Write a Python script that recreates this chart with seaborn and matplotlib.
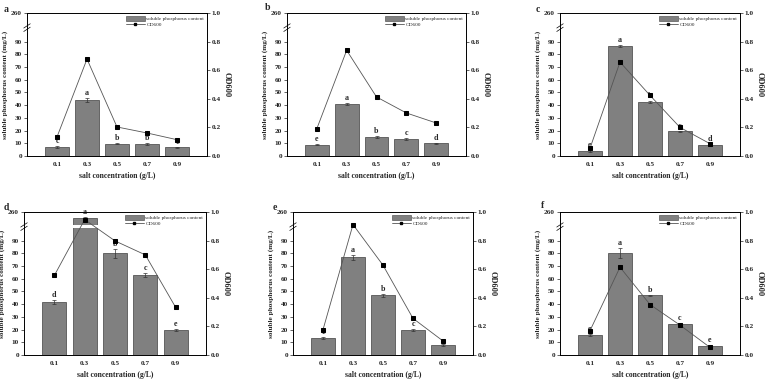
import numpy as np
import pandas as pd
import matplotlib
matplotlib.use("Agg")
import matplotlib.pyplot as plt
from matplotlib.patches import Patch
from matplotlib.lines import Line2D
import seaborn as sns

sns.set_style("white")
plt.rcParams['font.family'] = ['Liberation Serif', 'DejaVu Serif']
plt.rcParams['font.weight'] = 'bold'
plt.rcParams['axes.labelweight'] = 'bold'

salt = ["0.1", "0.3", "0.5", "0.7", "0.9"]
panel_names = ["a", "b", "c", "d", "e", "f"]

phos_a = [7.0, 44.1, 9.8, 9.3, 6.7]
phos_b = [8.8, 40.6, 15.0, 13.2, 10.1]
phos_c = [3.9, 86.8, 42.4, 19.4, 9.0]
phos_d = [42.0, 255.0, 80.1, 63.1, 19.6]
phos_e = [13.6, 77.0, 47.0, 19.6, 7.8]
phos_f = [15.7, 80.4, 47.0, 24.5, 7.3]

err_a = [0.8, 1.5, 0.5, 0.8, 0.5]
err_b = [0.5, 0.8, 0.8, 1.0, 0.5]
err_c = [0.5, 0.8, 0.5, 0.5, 0.5]
err_d = [1.5, 1.0, 3.5, 1.5, 0.8]
err_e = [0.8, 2.0, 1.2, 0.8, 0.5]
err_f = [0.8, 4.0, 0.5, 0.5, 0.5]

od_a = [0.133, 0.678, 0.203, 0.161, 0.114]
od_b = [0.191, 0.739, 0.413, 0.301, 0.231]
od_c = [0.054, 0.657, 0.424, 0.200, 0.086]
od_d = [0.556, 0.947, 0.798, 0.700, 0.333]
od_e = [0.177, 0.912, 0.628, 0.256, 0.098]
od_f = [0.170, 0.614, 0.353, 0.209, 0.053]

letters_a = ["c", "a", "b", "b", "c"]
letters_b = ["e", "a", "b", "c", "d"]
letters_c = ["e", "a", "b", "c", "d"]
letters_d = ["d", "a", "b", "c", "e"]
letters_e = ["e", "a", "b", "c", ""]
letters_f = ["e", "a", "b", "c", "e"]

left_ticks = [0, 10, 20, 30, 40, 50, 60, 70, 80, 90, 260]
right_ticks = [0.0, 0.2, 0.4, 0.6, 0.8, 1.0]

phos_all = [phos_a, phos_b, phos_c, phos_d, phos_e, phos_f]
err_all = [err_a, err_b, err_c, err_d, err_e, err_f]
od_all = [od_a, od_b, od_c, od_d, od_e, od_f]
let_all = [letters_a, letters_b, letters_c, letters_d, letters_e, letters_f]

# broken-axis scale: 0-100 linear, 100-250 compressed, 250-260 linear
def fwd(y):
    y = np.asarray(y, dtype=float)
    return np.where(y <= 100, y,
                    np.where(y < 250, 100 + (y - 100) * (2.5 / 150), 102.5 + (y - 250)))

def inv(t):
    t = np.asarray(t, dtype=float)
    return np.where(t <= 100, t,
                    np.where(t < 102.5, 100 + (t - 100) * (150 / 2.5), 250 + (t - 102.5)))

W, H = 767, 379
fig = plt.figure(figsize=(W / 100, H / 100), dpi=100)

boxes = [(27, 207, 13, 156), (287, 466, 13, 156), (560, 740, 13, 156),
         (24, 206, 212, 355), (293, 473, 212, 355), (560, 740, 212, 355)]
letter_pos = [(6, 9), (268, 7), (538, 10), (6, 207), (275, 208), (543, 206)]

bar_color = "#808080"
edge_color = "#404040"
fs_tick = 5.2
fs_lab = 5.2

for i in range(6):
    x0, x1, y0, y1 = boxes[i]
    ax = fig.add_axes([x0 / W, 1 - y1 / H, (x1 - x0) / W, (y1 - y0) / H])
    df = pd.DataFrame({"salt": salt, "phos": phos_all[i], "od": od_all[i]})
    sns.barplot(data=df, x="salt", y="phos", ax=ax, color=bar_color, saturation=1,
                edgecolor=edge_color, linewidth=0.5, width=0.8, errorbar=None, zorder=1)
    centers = [p.get_x() + p.get_width() / 2 for p in ax.patches]
    ax.errorbar(centers, phos_all[i], yerr=err_all[i], fmt="none", ecolor="#333333",
                elinewidth=0.5, capsize=1.3, capthick=0.5, zorder=2)
    ax.set_yscale("function", functions=(fwd, inv))
    ax.set_ylim(0, 260)
    ax.set_xlim(-1, 5)
    ax.set_yticks(left_ticks)
    ax.set_yticklabels([str(t) for t in left_ticks])
    # white gap in bars at the break
    ax.axhspan(101, 249, color="white", zorder=1.5, lw=0)
    # break marks on left spine
    fb = float(fwd(160) / fwd(260))
    for dy in (-0.012, 0.012):
        ax.plot([-0.018, 0.018], [fb + dy - 0.015, fb + dy + 0.015], transform=ax.transAxes,
                color="black", lw=0.5, clip_on=False, zorder=5)
    for c, v, e, l in zip(centers, phos_all[i], err_all[i], let_all[i]):
        if l:
            ax.text(c, float(inv(fwd(v + e) + 0.8)), l, ha="center", va="bottom",
                    fontsize=5.8, fontweight="bold", zorder=3)
    ax.set_xlabel("salt concentration (g/L)", fontsize=fs_lab + 0.3, labelpad=4)
    ax.set_ylabel("soluble phosphorus content (mg/L)", fontsize=fs_lab, labelpad=2)
    ax.tick_params(axis="y", labelsize=fs_tick, length=2, width=0.5, direction="out", pad=1.5, left=True)
    ax.tick_params(axis="x", labelsize=fs_tick, length=0, pad=4)
    for s in ax.spines.values():
        s.set_linewidth(0.6)
        s.set_color("black")

    ax2 = ax.twinx()
    sns.lineplot(x=centers, y=od_all[i], ax=ax2, color="#555555", linewidth=0.6,
                 marker="s", markersize=2.2, markerfacecolor="black", markeredgecolor="black",
                 zorder=4)
    ax2.set_ylim(0, 1.0)
    ax2.set_xlim(-1, 5)
    ax2.set_yticks(right_ticks)
    ax2.set_yticklabels([f"{t:.1f}" for t in right_ticks])
    ax2.set_ylabel("OD600", fontsize=fs_lab + 0.8, rotation=270, labelpad=7)
    ax2.tick_params(axis="y", labelsize=fs_tick, length=2, width=0.5, direction="out", pad=1.5, right=True)
    for s in ax2.spines.values():
        s.set_linewidth(0.6)
        s.set_color("black")
    handles = [Patch(facecolor=bar_color, edgecolor=edge_color, linewidth=0.4),
               Line2D([0], [0], color="#555555", lw=0.6, marker="s", markersize=2.0,
                      markerfacecolor="black", markeredgecolor="black")]
    ax2.legend(handles, ["soluble phosphorus content", "OD600"], loc="upper right",
               frameon=False, handlelength=3.6, handleheight=1.0,
               borderaxespad=0.15, labelspacing=0.15, handletextpad=0.3,
               prop={"family": "Liberation Serif", "size": 3.8, "weight": "normal"})

    lx, ly = letter_pos[i]
    fig.text(lx / W, 1 - ly / H, panel_names[i], fontsize=7, fontweight="bold",
             ha="center", va="center")

fig.savefig("out.png", dpi=100)
